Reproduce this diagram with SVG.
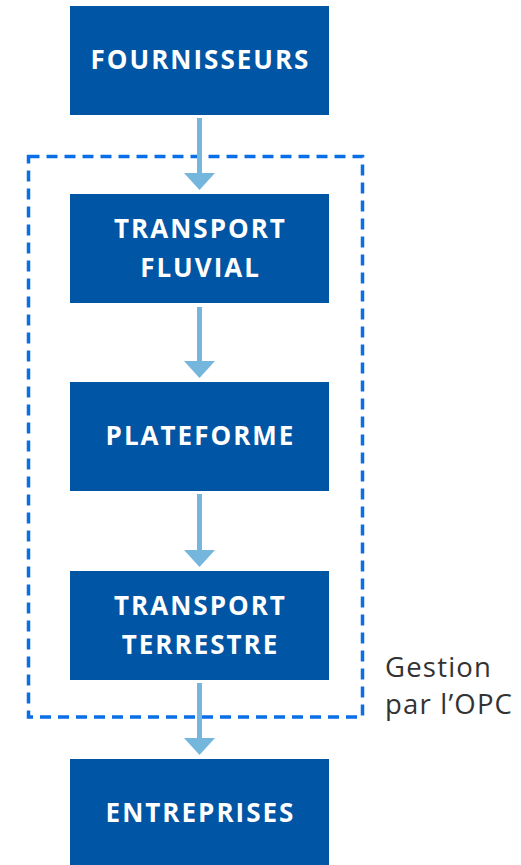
<svg xmlns="http://www.w3.org/2000/svg" width="521" height="865" viewBox="0 0 521 865">
<defs>
<style>
.box{fill:#0055A4}
.lbl{font-family:"Open Sans","Liberation Sans",sans-serif;font-weight:bold;font-size:26px;fill:#fff;text-anchor:middle;letter-spacing:2px}
.conn line{stroke:#74B6DC;stroke-width:5}
.conn polygon{fill:#74B6DC}
.note{font-family:"Open Sans","Liberation Sans",sans-serif;font-size:27.5px;fill:#333;letter-spacing:1.2px}
</style>
</defs>
<rect width="521" height="865" fill="#fff"/>
<g id="opc-zone">
<rect x="28.5" y="156.5" width="334" height="560.5" fill="none" stroke="#0A6EE6" stroke-width="3.5" stroke-dasharray="11 7"/>
<text class="note" x="385" y="677">Gestion</text>
<text class="note" x="385" y="714">par l’OPC</text>
</g>
<g id="connectors" class="conn">
<line x1="199.5" y1="118" x2="199.5" y2="175"/>
<polygon points="184,173 215,173 199.5,190"/>
<line x1="199.5" y1="307" x2="199.5" y2="363"/>
<polygon points="184,361 215,361 199.5,378"/>
<line x1="199.5" y1="494" x2="199.5" y2="552"/>
<polygon points="184,550 215,550 199.5,567"/>
<line x1="199.5" y1="683" x2="199.5" y2="740"/>
<polygon points="184,738 215,738 199.5,755"/>
</g>
<g id="fournisseurs">
<rect class="box" x="70" y="6" width="259" height="109"/>
<text class="lbl" x="200.5" y="69">FOURNISSEURS</text>
</g>
<g id="transport-fluvial">
<rect class="box" x="70" y="194" width="259" height="109"/>
<text class="lbl" x="200.5" y="238">TRANSPORT</text>
<text class="lbl" x="200.5" y="277">FLUVIAL</text>
</g>
<g id="plateforme">
<rect class="box" x="70" y="382" width="259" height="109"/>
<text class="lbl" x="200.5" y="445">PLATEFORME</text>
</g>
<g id="transport-terrestre">
<rect class="box" x="70" y="571" width="259" height="109"/>
<text class="lbl" x="200.5" y="615">TRANSPORT</text>
<text class="lbl" x="200.5" y="654">TERRESTRE</text>
</g>
<g id="entreprises">
<rect class="box" x="70" y="759" width="259" height="109"/>
<text class="lbl" x="200.5" y="822">ENTREPRISES</text>
</g>
</svg>
